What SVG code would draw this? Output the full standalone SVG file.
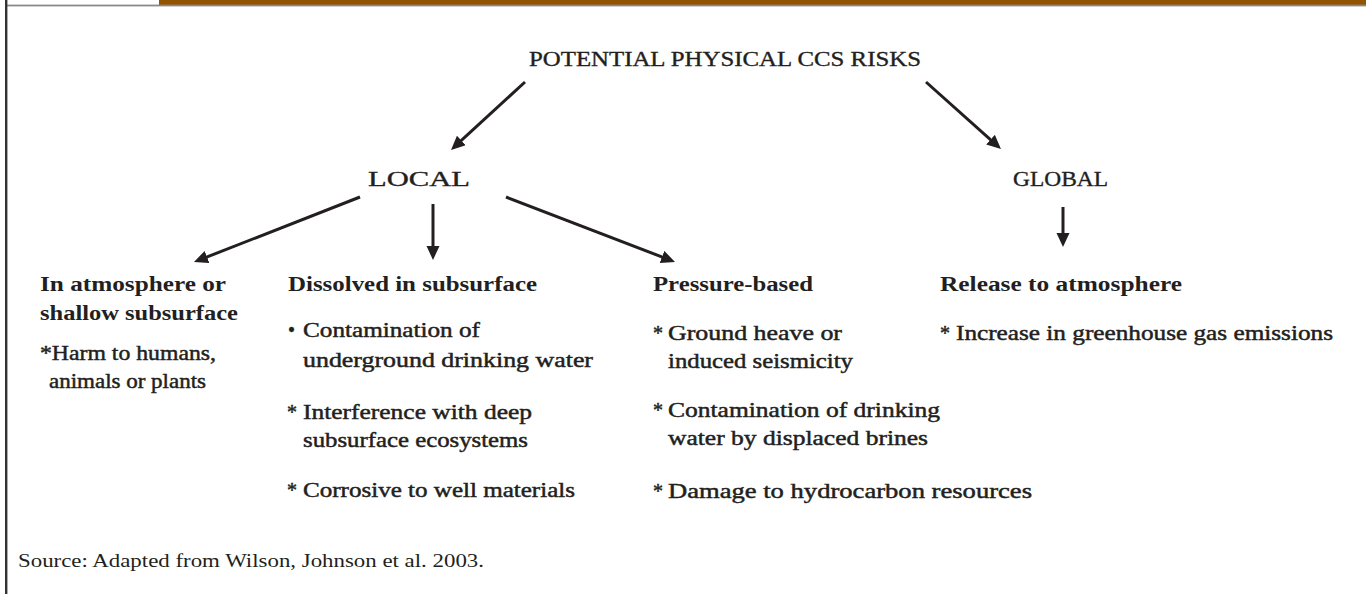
<svg xmlns="http://www.w3.org/2000/svg" width="1366" height="594" viewBox="0 0 1366 594" font-family="'Liberation Serif', 'Times New Roman', 'DejaVu Serif', 'Noto Serif', serif">
<defs>
<style>
text{font-family:'Liberation Serif','Times New Roman','DejaVu Serif','Noto Serif',serif;fill:#231f20;}
.cap{font-size:21px;stroke:#231f20;stroke-width:0.35;}
.hd{font-size:20px;font-weight:bold;}
.it{font-size:20px;stroke:#231f20;stroke-width:0.45;}
.src{font-size:19px;}
.conn line{stroke:#231f20;stroke-width:3;fill:none;marker-end:url(#ah);}
</style>
<marker id="ah" markerUnits="userSpaceOnUse" markerWidth="16" markerHeight="14" refX="4" refY="6.5" orient="auto" viewBox="0 0 16 14">
<path d="M0,0 L14,6.5 L0,13 z" fill="#231f20"/>
</marker>
</defs>
<rect x="0" y="0" width="1366" height="594" fill="#ffffff"/>
<g id="frame">
<rect x="159" y="0" width="1207" height="5" fill="#945300"/>
<rect x="7" y="4.6" width="1359" height="1.8" fill="#8a8a8a"/>
<rect x="5" y="0" width="2.4" height="594" fill="#333333"/>
</g>
<g id="connectors" class="conn">
<line x1="525" y1="82" x2="458.4" y2="143.2"/>
<line x1="926" y1="82" x2="993.5" y2="142.3"/>
<line x1="360" y1="197" x2="203.3" y2="258.4"/>
<line x1="433" y1="204" x2="433" y2="250"/>
<line x1="506" y1="197" x2="665.7" y2="258.4"/>
<line x1="1063" y1="207" x2="1063" y2="237"/>
</g>
<g id="root"><text class="cap" x="529" y="66" textLength="392" lengthAdjust="spacingAndGlyphs">POTENTIAL PHYSICAL CCS RISKS</text></g>
<g id="local"><text class="cap" x="368" y="186" textLength="102" lengthAdjust="spacingAndGlyphs">LOCAL</text></g>
<g id="global"><text class="cap" x="1013" y="186" textLength="95" lengthAdjust="spacingAndGlyphs">GLOBAL</text></g>
<g id="atmosphere">
<text class="hd" x="40" y="291" textLength="186" lengthAdjust="spacingAndGlyphs">In atmosphere or</text>
<text class="hd" x="40" y="320" textLength="198" lengthAdjust="spacingAndGlyphs">shallow subsurface</text>
<text class="it" x="40" y="360" textLength="176" lengthAdjust="spacingAndGlyphs">*Harm to humans,</text>
<text class="it" x="49" y="388" textLength="157" lengthAdjust="spacingAndGlyphs">animals or plants</text>
</g>
<g id="dissolved">
<text class="hd" x="288" y="291" textLength="249" lengthAdjust="spacingAndGlyphs">Dissolved in subsurface</text>
<text class="it" x="288" y="337">•</text>
<text class="it" x="303" y="337" textLength="177" lengthAdjust="spacingAndGlyphs">Contamination of</text>
<text class="it" x="303" y="367" textLength="290" lengthAdjust="spacingAndGlyphs">underground drinking water</text>
<text class="it" x="287" y="419">*</text>
<text class="it" x="303" y="419" textLength="229" lengthAdjust="spacingAndGlyphs">Interference with deep</text>
<text class="it" x="303" y="447" textLength="225" lengthAdjust="spacingAndGlyphs">subsurface ecosystems</text>
<text class="it" x="287" y="497">*</text>
<text class="it" x="303" y="497" textLength="272" lengthAdjust="spacingAndGlyphs">Corrosive to well materials</text>
</g>
<g id="pressure">
<text class="hd" x="653" y="291" textLength="160" lengthAdjust="spacingAndGlyphs">Pressure-based</text>
<text class="it" x="653" y="340">*</text>
<text class="it" x="668" y="340" textLength="174" lengthAdjust="spacingAndGlyphs">Ground heave or</text>
<text class="it" x="668" y="368" textLength="185" lengthAdjust="spacingAndGlyphs">induced seismicity</text>
<text class="it" x="653" y="417">*</text>
<text class="it" x="668" y="417" textLength="272" lengthAdjust="spacingAndGlyphs">Contamination of drinking</text>
<text class="it" x="668" y="445" textLength="260" lengthAdjust="spacingAndGlyphs">water by displaced brines</text>
<text class="it" x="653" y="498">*</text>
<text class="it" x="668" y="498" textLength="364" lengthAdjust="spacingAndGlyphs">Damage to hydrocarbon resources</text>
</g>
<g id="release">
<text class="hd" x="940" y="291" textLength="242" lengthAdjust="spacingAndGlyphs">Release to atmosphere</text>
<text class="it" x="940" y="340">*</text>
<text class="it" x="956" y="340" textLength="377" lengthAdjust="spacingAndGlyphs">Increase in greenhouse gas emissions</text>
</g>
<g id="source"><text class="src" x="18" y="567" textLength="466" lengthAdjust="spacingAndGlyphs">Source: Adapted from Wilson, Johnson et al. 2003.</text></g>
</svg>
